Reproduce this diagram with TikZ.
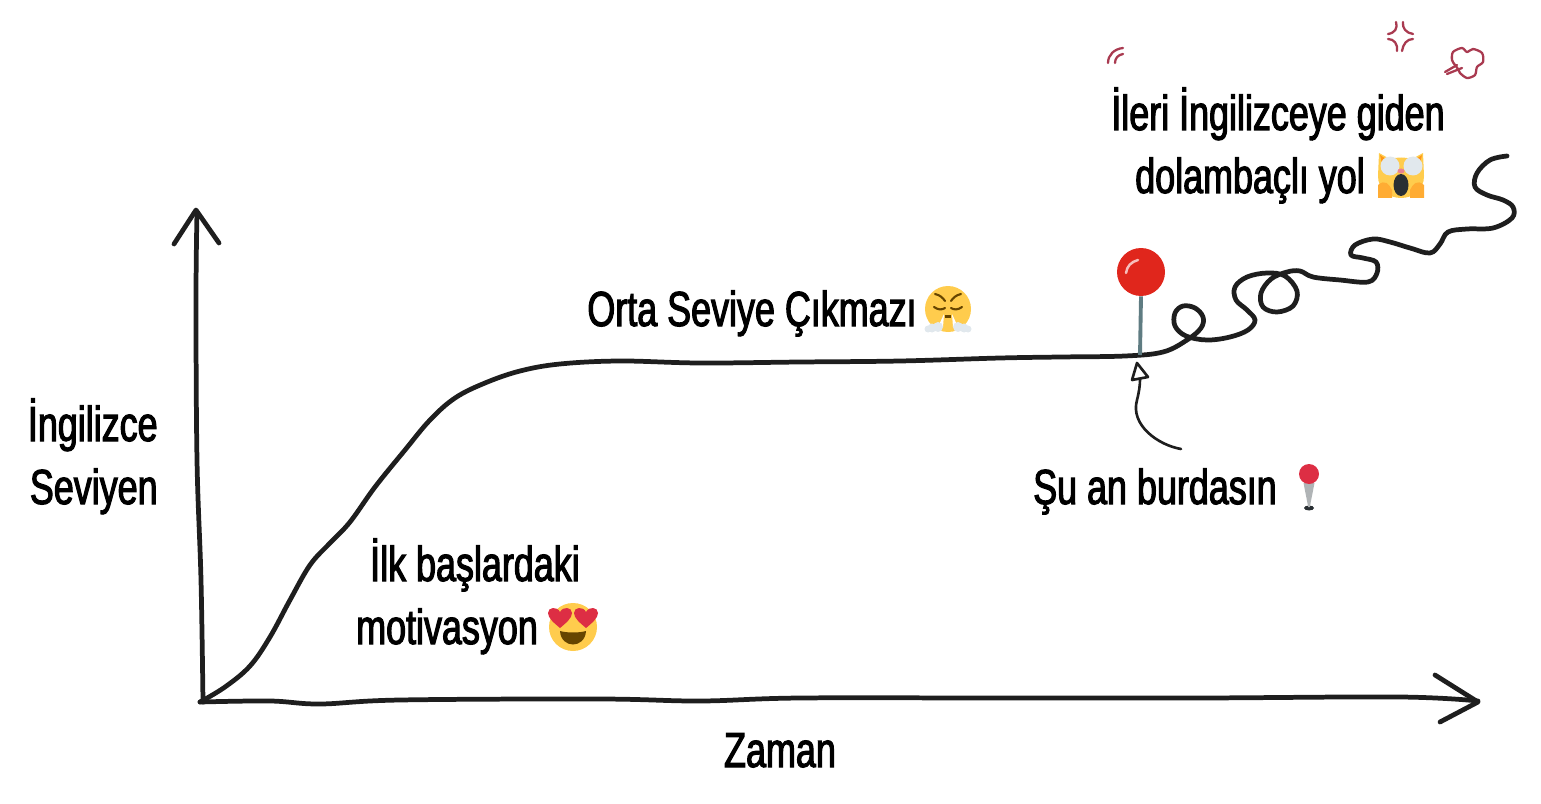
\documentclass[tikz,border=0pt]{standalone}
\usepackage{fontspec}
\setmainfont[FakeStretch=0.73,FakeBold=2.2]{Liberation Sans}
\usepackage{xcolor}
\usetikzlibrary{positioning, arrows.meta, calc}
\definecolor{inkcol}{HTML}{1E1E1E}
\definecolor{pinred}{HTML}{E0261C}
\definecolor{stemcol}{HTML}{5F7C82}
\definecolor{angercol}{HTML}{A93A50}
\definecolor{emojiyel}{HTML}{FFCC4D}
\definecolor{emojired}{HTML}{DD2E44}
\definecolor{emojibrn}{HTML}{664500}
\definecolor{emojigry}{HTML}{E1E8ED}
\definecolor{emojiorg}{HTML}{FFAC33}
\definecolor{emojidrk}{HTML}{292F33}
\tikzset{
    lbl/.style={font=\fontsize{28}{32}\selectfont, text=black, inner sep=0pt, anchor=base},
    sketch/.style={draw=inkcol, line width=2.7pt, line cap=round, line join=round},
    thinsketch/.style={draw=inkcol, line width=1.5pt, line cap=round, line join=round},
    anger/.style={draw=angercol, line width=1.3pt, line cap=round, line join=round},
    hearteyes/.pic={
        \fill[emojiyel] (0,0) circle (24);
        \fill[emojibrn] (-13,4) .. controls (-6,6) and (6,6) .. (13,4) .. controls (12,22) and (-12,22) .. (-13,4) -- cycle;
        \foreach \hx in {-13,13}
            \fill[emojired, shift={(\hx,-10)}] (0,11) .. controls (-6,6) and (-12,1) .. (-12,-4) .. controls (-12,-10) and (-3,-11) .. (0,-5) .. controls (3,-11) and (12,-10) .. (12,-4) .. controls (12,1) and (6,6) .. (0,11) -- cycle;
    },
    steamface/.pic={
        \fill[emojiyel] (0,0) circle (23);
        \draw[emojibrn, line width=1.2pt, line cap=round] (-13,-15) .. controls (-8,-14) and (-5,-11) .. (-3,-8);
        \draw[emojibrn, line width=1.2pt, line cap=round] (13,-15) .. controls (8,-14) and (5,-11) .. (3,-8);
        \draw[emojibrn, line width=1.2pt, line cap=round] (-14,-2) .. controls (-10,1) and (-6,1) .. (-3,-1);
        \draw[emojibrn, line width=1.2pt, line cap=round] (14,-2) .. controls (10,1) and (6,1) .. (3,-1);
        \fill[emojibrn] (-3,6) rectangle (3,9);
        \fill[white] (-4,5) -- (-10,18) -- (-5,18) -- cycle;
        \fill[white] (4,5) -- (10,18) -- (5,18) -- cycle;
        \foreach \sx in {-1,1} {
            \fill[emojigry] (\sx*10,18) circle (5);
            \fill[emojigry] (\sx*16,19) circle (4.5);
            \fill[emojigry] (\sx*20,20) circle (3.5);
        }
    },
    screamcat/.pic={
        \fill[emojiyel] (-22,-23) -- (-11,-17) .. controls (-4,-19) and (4,-19) .. (11,-17) -- (22,-23) -- (23,0) .. controls (23,14) and (12,22) .. (0,22) .. controls (-12,22) and (-23,14) .. (-23,0) -- cycle;
        \fill[orange!70!emojiyel] (-21,-21) -- (-18,-8) -- (-12,-15) -- cycle;
        \fill[orange!70!emojiyel] (21,-21) -- (18,-8) -- (12,-15) -- cycle;
        \fill[emojigry] (-11,-10) circle (9.5);
        \fill[emojigry] (12,-10) circle (9.5);
        \fill[emojired!60!white] (0,-5) ellipse (3.5 and 2.5);
        \fill[emojidrk] (0,9) ellipse (7.5 and 11);
        \fill[emojiorg] (-23,9) .. controls (-16,3) and (-12,8) .. (-9,14) -- (-9,22) -- (-23,22) -- cycle;
        \fill[emojiorg] (23,9) .. controls (16,3) and (12,8) .. (9,14) -- (9,22) -- (23,22) -- cycle;
    },
    pinmark/.pic={
        \fill[emojidrk] (0,23) ellipse (5 and 2.5);
        \fill[gray!50!emojigry] (-5.5,-2) -- (5.5,-2) -- (0.8,22) -- (-0.8,22) -- cycle;
        \fill[emojired] (0,-11) circle (10);
    }
}
\begin{document}
\begin{tikzpicture}[x=0.02cm, y=-0.02cm]
    \useasboundingbox (0,0) rectangle (1541,804);

    % Axes
    \draw[sketch] plot[smooth, tension=0.6] coordinates {(197,212) (196,300) (197,460) (201,580) (203,702)};
    \draw[sketch] (174,244) -- (196,210) -- (219,243);
    \draw[sketch] plot[smooth, tension=0.6] coordinates {(200,702) (270,701) (320,704) (400,700) (600,699) (700,701) (800,698) (1000,698) (1200,698) (1400,697) (1478,701)};
    \draw[sketch] (1435,675) -- (1478,702) -- (1440,722);

    % Level curve, flat part and then the winding road
    \draw[sketch] plot[smooth, tension=0.6] coordinates {(200,702) (225,687) (250,666) (270,637) (290,600) (310,565) (330,543) (350,522) (375,487) (405,450) (430,420) (455,398) (485,383) (520,371) (560,364) (620,361) (700,363) (800,362) (900,361) (1000,358) (1060,357) (1125,356) (1163,352) (1187,340) (1201,328) (1203,317) (1195,308) (1183,306) (1175,313) (1175,326) (1186,336) (1207,340) (1230,337) (1248,330) (1255,320) (1247,310) (1236,300) (1235,287) (1247,277) (1267,273) (1285,276) (1297,291) (1293,306) (1277,312) (1263,307) (1261,293) (1271,279) (1287,272) (1300,271) (1313,277) (1340,280) (1368,282) (1377,273) (1376,262) (1363,258) (1351,255) (1355,245) (1373,239) (1390,242) (1410,248) (1430,253) (1440,244) (1448,232) (1467,229) (1493,228) (1512,218) (1513,207) (1503,200) (1487,195) (1475,187) (1477,173) (1490,160) (1507,156)};

    % Pin on the curve
    \coordinate (pinfoot) at (1140,355);
    \node[circle, fill=pinred, minimum size=0.96cm, inner sep=0pt] (pinhead) at (1141,272) {};
    \draw[stemcol, line width=2.2pt] (pinhead.south) -- (pinfoot);
    \draw[white!70!pinred, line width=1.4pt, line cap=round] (1126,273) .. controls (1127,266) and (1131,262) .. (1138,260);

    % Small arrow up to the pin
    \coordinate (arrowtail) at (1181,449);
    \coordinate (arrowtip) at (1140,379);
    \draw[thinsketch] (arrowtail) .. controls (1158,445) and (1130,425) .. (1137,400) .. controls (1139,392) and (1140,386) .. (arrowtip);
    \draw[thinsketch] (1137,363) -- (1148,377) -- (1132,380) -- cycle;

    % Anger marks at the top
    \draw[anger] (1108,63) .. controls (1108,55) and (1114,49) .. (1123,48);
    \draw[anger] (1115,63) .. controls (1115,58) and (1118,55) .. (1123,54);
    \draw[anger] (1396,22) .. controls (1398,28) and (1395,33) .. (1388,34);
    \draw[anger] (1403,22) .. controls (1402,28) and (1406,33) .. (1413,34);
    \draw[anger] (1388,39) .. controls (1394,39) and (1398,44) .. (1397,51);
    \draw[anger] (1413,39) .. controls (1407,39) and (1403,44) .. (1402,51);
    \draw[anger] plot[smooth cycle, tension=0.5] coordinates {(1455,65) (1452,60) (1453,52) (1462,48) (1467,52) (1473,49) (1482,53) (1483,62) (1477,67) (1475,75) (1467,78) (1460,73) (1458,69)};
    \draw[anger] (1445,72) -- (1457,65);
    \draw[anger] (1447,74) -- (1462,68);

    % Labels
    \node[lbl, anchor=base east] (seviyeust) at (158,441) {İngilizce};
    \node[lbl, anchor=base east] (seviyealt) at (158,504) {Seviyen};
    \node[lbl] (zaman) at (780,767) {Zaman};
    \node[lbl] (motivust) at (475,581) {İlk başlardaki};
    \node[lbl] (motivalt) at (447,644) {motivasyon};
    \node[lbl] (cikmaz) at (752,326) {Orta Seviye Çıkmazı};
    \node[lbl] (buradasin) at (1155,504) {Şu an burdasın};
    \node[lbl] (ileriust) at (1278,130) {İleri İngilizceye giden};
    \node[lbl] (ilerialt) at (1250,193) {dolambaçlı yol};

    % Emoji
    \pic at (573,627) {hearteyes};
    \pic at (948,309) {steamface};
    \pic at (1401,176) {screamcat};
    \pic at (1309,485) {pinmark};
\end{tikzpicture}
\end{document}
